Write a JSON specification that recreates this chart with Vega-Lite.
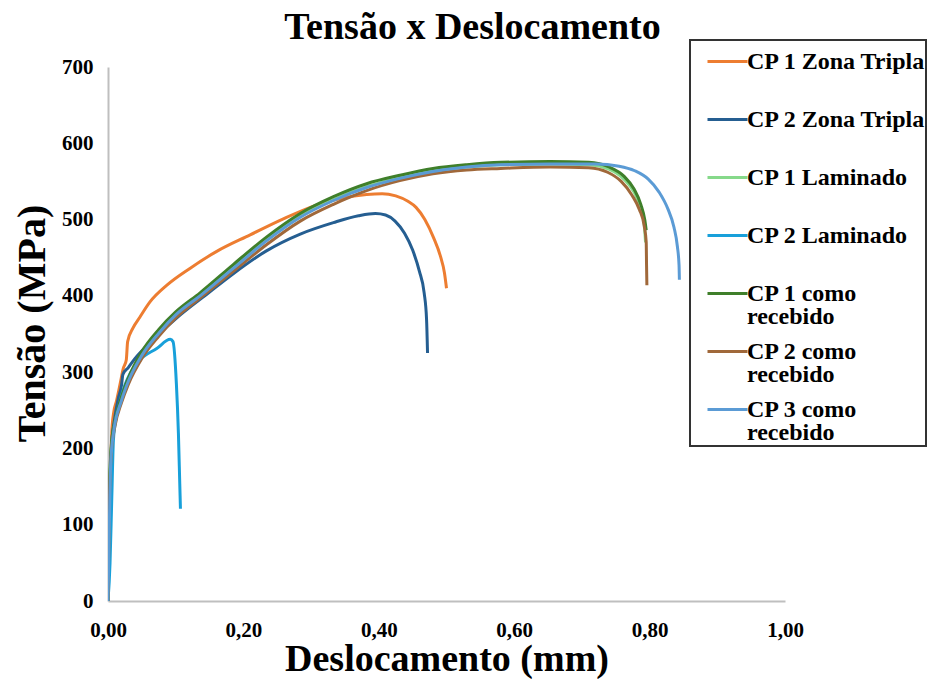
{
  "$schema": "https://vega.github.io/schema/vega-lite/v6.json",
  "width": 677,
  "height": 534,
  "autosize": {"type": "none"},
  "padding": {"left": 108, "top": 67, "right": 144, "bottom": 78},
  "background": "white",
  "config": {"view": {"stroke": null}, "font": "Liberation Serif"},
  "title": {
    "text": "Tensão x Deslocamento",
    "font": "Liberation Serif",
    "fontSize": 38,
    "fontWeight": "bold",
    "color": "#000000",
    "anchor": "middle",
    "frame": "group",
    "dx": 26,
    "offset": -8
  },
  "data": {
    "values": [
      {"s": "CP 1 Zona Tripla", "x": 0, "y": 0},
      {"s": "CP 1 Zona Tripla", "x": 0.002, "y": 100},
      {"s": "CP 1 Zona Tripla", "x": 0.004, "y": 180},
      {"s": "CP 1 Zona Tripla", "x": 0.0055, "y": 220},
      {"s": "CP 1 Zona Tripla", "x": 0.008, "y": 245},
      {"s": "CP 1 Zona Tripla", "x": 0.0128, "y": 263},
      {"s": "CP 1 Zona Tripla", "x": 0.018, "y": 285},
      {"s": "CP 1 Zona Tripla", "x": 0.0226, "y": 305},
      {"s": "CP 1 Zona Tripla", "x": 0.027, "y": 316},
      {"s": "CP 1 Zona Tripla", "x": 0.029, "y": 340},
      {"s": "CP 1 Zona Tripla", "x": 0.037, "y": 358},
      {"s": "CP 1 Zona Tripla", "x": 0.047, "y": 372},
      {"s": "CP 1 Zona Tripla", "x": 0.062, "y": 392},
      {"s": "CP 1 Zona Tripla", "x": 0.087, "y": 414},
      {"s": "CP 1 Zona Tripla", "x": 0.121, "y": 436},
      {"s": "CP 1 Zona Tripla", "x": 0.16, "y": 458},
      {"s": "CP 1 Zona Tripla", "x": 0.21, "y": 480},
      {"s": "CP 1 Zona Tripla", "x": 0.259, "y": 501},
      {"s": "CP 1 Zona Tripla", "x": 0.308, "y": 519},
      {"s": "CP 1 Zona Tripla", "x": 0.345, "y": 528},
      {"s": "CP 1 Zona Tripla", "x": 0.382, "y": 533},
      {"s": "CP 1 Zona Tripla", "x": 0.405, "y": 534},
      {"s": "CP 1 Zona Tripla", "x": 0.425, "y": 531},
      {"s": "CP 1 Zona Tripla", "x": 0.443, "y": 524},
      {"s": "CP 1 Zona Tripla", "x": 0.455, "y": 516},
      {"s": "CP 1 Zona Tripla", "x": 0.468, "y": 500},
      {"s": "CP 1 Zona Tripla", "x": 0.481, "y": 476},
      {"s": "CP 1 Zona Tripla", "x": 0.491, "y": 452},
      {"s": "CP 1 Zona Tripla", "x": 0.497, "y": 430},
      {"s": "CP 1 Zona Tripla", "x": 0.5, "y": 410},

      {"s": "CP 2 Zona Tripla", "x": 0, "y": 0},
      {"s": "CP 2 Zona Tripla", "x": 0.002, "y": 120},
      {"s": "CP 2 Zona Tripla", "x": 0.005, "y": 200},
      {"s": "CP 2 Zona Tripla", "x": 0.01, "y": 240},
      {"s": "CP 2 Zona Tripla", "x": 0.015, "y": 265},
      {"s": "CP 2 Zona Tripla", "x": 0.02, "y": 283},
      {"s": "CP 2 Zona Tripla", "x": 0.022, "y": 297},
      {"s": "CP 2 Zona Tripla", "x": 0.03, "y": 306},
      {"s": "CP 2 Zona Tripla", "x": 0.04, "y": 318},
      {"s": "CP 2 Zona Tripla", "x": 0.06, "y": 337},
      {"s": "CP 2 Zona Tripla", "x": 0.08, "y": 354},
      {"s": "CP 2 Zona Tripla", "x": 0.1, "y": 370},
      {"s": "CP 2 Zona Tripla", "x": 0.15, "y": 405},
      {"s": "CP 2 Zona Tripla", "x": 0.185, "y": 429},
      {"s": "CP 2 Zona Tripla", "x": 0.234, "y": 459},
      {"s": "CP 2 Zona Tripla", "x": 0.284, "y": 481},
      {"s": "CP 2 Zona Tripla", "x": 0.333, "y": 496},
      {"s": "CP 2 Zona Tripla", "x": 0.37, "y": 505},
      {"s": "CP 2 Zona Tripla", "x": 0.395, "y": 508},
      {"s": "CP 2 Zona Tripla", "x": 0.41, "y": 506},
      {"s": "CP 2 Zona Tripla", "x": 0.424, "y": 498},
      {"s": "CP 2 Zona Tripla", "x": 0.438, "y": 482},
      {"s": "CP 2 Zona Tripla", "x": 0.45, "y": 460},
      {"s": "CP 2 Zona Tripla", "x": 0.46, "y": 432},
      {"s": "CP 2 Zona Tripla", "x": 0.467, "y": 404},
      {"s": "CP 2 Zona Tripla", "x": 0.4705, "y": 370},
      {"s": "CP 2 Zona Tripla", "x": 0.472, "y": 325},

      {"s": "CP 1 Laminado", "x": 0, "y": 0},
      {"s": "CP 1 Laminado", "x": 0.002, "y": 135},
      {"s": "CP 1 Laminado", "x": 0.005, "y": 200},
      {"s": "CP 1 Laminado", "x": 0.01, "y": 232},
      {"s": "CP 1 Laminado", "x": 0.02, "y": 264},
      {"s": "CP 1 Laminado", "x": 0.03, "y": 288},
      {"s": "CP 1 Laminado", "x": 0.05, "y": 323},
      {"s": "CP 1 Laminado", "x": 0.075, "y": 352},
      {"s": "CP 1 Laminado", "x": 0.1, "y": 376},
      {"s": "CP 1 Laminado", "x": 0.136, "y": 401},
      {"s": "CP 1 Laminado", "x": 0.185, "y": 437},
      {"s": "CP 1 Laminado", "x": 0.234, "y": 473},
      {"s": "CP 1 Laminado", "x": 0.284, "y": 504},
      {"s": "CP 1 Laminado", "x": 0.333, "y": 526},
      {"s": "CP 1 Laminado", "x": 0.382, "y": 543},
      {"s": "CP 1 Laminado", "x": 0.431, "y": 555},
      {"s": "CP 1 Laminado", "x": 0.48, "y": 564},
      {"s": "CP 1 Laminado", "x": 0.53, "y": 569},
      {"s": "CP 1 Laminado", "x": 0.58, "y": 572},
      {"s": "CP 1 Laminado", "x": 0.653, "y": 573},
      {"s": "CP 1 Laminado", "x": 0.71, "y": 572},
      {"s": "CP 1 Laminado", "x": 0.74, "y": 566},
      {"s": "CP 1 Laminado", "x": 0.762, "y": 553},
      {"s": "CP 1 Laminado", "x": 0.777, "y": 536},
      {"s": "CP 1 Laminado", "x": 0.787, "y": 515},
      {"s": "CP 1 Laminado", "x": 0.792, "y": 495},
      {"s": "CP 1 Laminado", "x": 0.794, "y": 470},

      {"s": "CP 2 Laminado", "x": 0, "y": 0},
      {"s": "CP 2 Laminado", "x": 0.003, "y": 50},
      {"s": "CP 2 Laminado", "x": 0.0055, "y": 132},
      {"s": "CP 2 Laminado", "x": 0.008, "y": 211},
      {"s": "CP 2 Laminado", "x": 0.012, "y": 240},
      {"s": "CP 2 Laminado", "x": 0.018, "y": 263},
      {"s": "CP 2 Laminado", "x": 0.025, "y": 283},
      {"s": "CP 2 Laminado", "x": 0.033, "y": 299},
      {"s": "CP 2 Laminado", "x": 0.047, "y": 316},
      {"s": "CP 2 Laminado", "x": 0.072, "y": 331},
      {"s": "CP 2 Laminado", "x": 0.092, "y": 343},
      {"s": "CP 2 Laminado", "x": 0.096, "y": 340},
      {"s": "CP 2 Laminado", "x": 0.101, "y": 285},
      {"s": "CP 2 Laminado", "x": 0.104, "y": 220},
      {"s": "CP 2 Laminado", "x": 0.106, "y": 154},
      {"s": "CP 2 Laminado", "x": 0.107, "y": 121},

      {"s": "CP 1 como recebido", "x": 0, "y": 0},
      {"s": "CP 1 como recebido", "x": 0.002, "y": 140},
      {"s": "CP 1 como recebido", "x": 0.005, "y": 205},
      {"s": "CP 1 como recebido", "x": 0.01, "y": 235},
      {"s": "CP 1 como recebido", "x": 0.02, "y": 268},
      {"s": "CP 1 como recebido", "x": 0.03, "y": 292},
      {"s": "CP 1 como recebido", "x": 0.05, "y": 327},
      {"s": "CP 1 como recebido", "x": 0.075, "y": 356},
      {"s": "CP 1 como recebido", "x": 0.1, "y": 379},
      {"s": "CP 1 como recebido", "x": 0.136, "y": 404},
      {"s": "CP 1 como recebido", "x": 0.185, "y": 441},
      {"s": "CP 1 como recebido", "x": 0.234, "y": 477},
      {"s": "CP 1 como recebido", "x": 0.284, "y": 508},
      {"s": "CP 1 como recebido", "x": 0.333, "y": 530},
      {"s": "CP 1 como recebido", "x": 0.382, "y": 547},
      {"s": "CP 1 como recebido", "x": 0.431, "y": 558},
      {"s": "CP 1 como recebido", "x": 0.48, "y": 567},
      {"s": "CP 1 como recebido", "x": 0.53, "y": 572},
      {"s": "CP 1 como recebido", "x": 0.58, "y": 575},
      {"s": "CP 1 como recebido", "x": 0.653, "y": 576},
      {"s": "CP 1 como recebido", "x": 0.71, "y": 575},
      {"s": "CP 1 como recebido", "x": 0.74, "y": 569},
      {"s": "CP 1 como recebido", "x": 0.762, "y": 557},
      {"s": "CP 1 como recebido", "x": 0.777, "y": 540},
      {"s": "CP 1 como recebido", "x": 0.787, "y": 520},
      {"s": "CP 1 como recebido", "x": 0.793, "y": 499},
      {"s": "CP 1 como recebido", "x": 0.795, "y": 486},

      {"s": "CP 2 como recebido", "x": 0, "y": 0},
      {"s": "CP 2 como recebido", "x": 0.002, "y": 130},
      {"s": "CP 2 como recebido", "x": 0.005, "y": 195},
      {"s": "CP 2 como recebido", "x": 0.01, "y": 228},
      {"s": "CP 2 como recebido", "x": 0.02, "y": 260},
      {"s": "CP 2 como recebido", "x": 0.03, "y": 284},
      {"s": "CP 2 como recebido", "x": 0.05, "y": 318},
      {"s": "CP 2 como recebido", "x": 0.075, "y": 347},
      {"s": "CP 2 como recebido", "x": 0.1, "y": 371},
      {"s": "CP 2 como recebido", "x": 0.136, "y": 397},
      {"s": "CP 2 como recebido", "x": 0.185, "y": 432},
      {"s": "CP 2 como recebido", "x": 0.234, "y": 467},
      {"s": "CP 2 como recebido", "x": 0.284, "y": 498},
      {"s": "CP 2 como recebido", "x": 0.333, "y": 520},
      {"s": "CP 2 como recebido", "x": 0.382, "y": 538},
      {"s": "CP 2 como recebido", "x": 0.431, "y": 551},
      {"s": "CP 2 como recebido", "x": 0.48, "y": 560},
      {"s": "CP 2 como recebido", "x": 0.53, "y": 565},
      {"s": "CP 2 como recebido", "x": 0.58, "y": 567},
      {"s": "CP 2 como recebido", "x": 0.653, "y": 569},
      {"s": "CP 2 como recebido", "x": 0.71, "y": 568},
      {"s": "CP 2 como recebido", "x": 0.738, "y": 562},
      {"s": "CP 2 como recebido", "x": 0.758, "y": 550},
      {"s": "CP 2 como recebido", "x": 0.774, "y": 532},
      {"s": "CP 2 como recebido", "x": 0.785, "y": 513},
      {"s": "CP 2 como recebido", "x": 0.792, "y": 492},
      {"s": "CP 2 como recebido", "x": 0.795, "y": 470},
      {"s": "CP 2 como recebido", "x": 0.7955, "y": 440},
      {"s": "CP 2 como recebido", "x": 0.796, "y": 414},

      {"s": "CP 3 como recebido", "x": 0, "y": 0},
      {"s": "CP 3 como recebido", "x": 0.002, "y": 100},
      {"s": "CP 3 como recebido", "x": 0.004, "y": 180},
      {"s": "CP 3 como recebido", "x": 0.008, "y": 220},
      {"s": "CP 3 como recebido", "x": 0.02, "y": 263},
      {"s": "CP 3 como recebido", "x": 0.03, "y": 288},
      {"s": "CP 3 como recebido", "x": 0.05, "y": 322},
      {"s": "CP 3 como recebido", "x": 0.075, "y": 351},
      {"s": "CP 3 como recebido", "x": 0.1, "y": 375},
      {"s": "CP 3 como recebido", "x": 0.136, "y": 400},
      {"s": "CP 3 como recebido", "x": 0.185, "y": 436},
      {"s": "CP 3 como recebido", "x": 0.234, "y": 472},
      {"s": "CP 3 como recebido", "x": 0.284, "y": 503},
      {"s": "CP 3 como recebido", "x": 0.333, "y": 525},
      {"s": "CP 3 como recebido", "x": 0.382, "y": 542},
      {"s": "CP 3 como recebido", "x": 0.431, "y": 554},
      {"s": "CP 3 como recebido", "x": 0.48, "y": 563},
      {"s": "CP 3 como recebido", "x": 0.53, "y": 569},
      {"s": "CP 3 como recebido", "x": 0.58, "y": 572},
      {"s": "CP 3 como recebido", "x": 0.653, "y": 573},
      {"s": "CP 3 como recebido", "x": 0.72, "y": 573},
      {"s": "CP 3 como recebido", "x": 0.755, "y": 570},
      {"s": "CP 3 como recebido", "x": 0.778, "y": 564},
      {"s": "CP 3 como recebido", "x": 0.798, "y": 553},
      {"s": "CP 3 como recebido", "x": 0.814, "y": 536},
      {"s": "CP 3 como recebido", "x": 0.827, "y": 514},
      {"s": "CP 3 como recebido", "x": 0.836, "y": 490},
      {"s": "CP 3 como recebido", "x": 0.841, "y": 465},
      {"s": "CP 3 como recebido", "x": 0.8435, "y": 440},
      {"s": "CP 3 como recebido", "x": 0.844, "y": 421}
    ]
  },
  "mark": {"type": "line", "strokeWidth": 3, "clip": true, "interpolate": "monotone"},
  "encoding": {
    "x": {
      "field": "x",
      "type": "quantitative",
      "scale": {"domain": [0, 1], "nice": false, "zero": false},
      "axis": {
        "title": "Deslocamento (mm)",
        "values": [0, 0.2, 0.4, 0.6, 0.8, 1],
        "labelExpr": "replace(format(datum.value, '.2f'), '.', ',')",
        "grid": false,
        "ticks": false,
        "domainColor": "#BFBFBF",
        "domainWidth": 2,
        "labelFont": "Liberation Serif",
        "labelFontSize": 21,
        "labelFontWeight": "bold",
        "labelColor": "#000000",
        "labelPadding": 18,
        "labelFlush": false,
        "labelOverlap": false,
        "titleFont": "Liberation Serif",
        "titleFontSize": 38,
        "titleFontWeight": "bold",
        "titleColor": "#000000",
        "titlePadding": 0
      }
    },
    "y": {
      "field": "y",
      "type": "quantitative",
      "scale": {"domain": [0, 700], "nice": false},
      "axis": {
        "title": "Tensão (MPa)",
        "values": [0, 100, 200, 300, 400, 500, 600, 700],
        "grid": false,
        "ticks": false,
        "domainColor": "#BFBFBF",
        "domainWidth": 2,
        "labelFont": "Liberation Serif",
        "labelFontSize": 21,
        "labelFontWeight": "bold",
        "labelColor": "#000000",
        "labelPadding": 15,
        "labelFlush": false,
        "labelOverlap": false,
        "titleFont": "Liberation Serif",
        "titleFontSize": 40,
        "titleFontWeight": "bold",
        "titleColor": "#000000",
        "titlePadding": 9,
        "titleY": 256
      }
    },
    "color": {
      "field": "s",
      "type": "nominal",
      "scale": {
        "domain": ["CP 1 Zona Tripla", "CP 2 Zona Tripla", "CP 1 Laminado", "CP 2 Laminado", "CP 1 como recebido", "CP 2 como recebido", "CP 3 como recebido"],
        "range": ["#ED7D31", "#255E91", "#86D98A", "#18A0DA", "#3F7F2A", "#A0683A", "#5B9BD5"]
      },
      "legend": {
        "title": null,
        "orient": "none",
        "legendX": 582,
        "legendY": -27,
        "symbolType": "stroke",
        "symbolSize": 1600,
        "symbolStrokeWidth": 3,
        "symbolOffset": 16,
        "labelFont": "Liberation Serif",
        "labelFontSize": 24,
        "labelFontWeight": "bold",
        "labelColor": "#000000",
        "labelOffset": -2,
        "labelLimit": 400,
        "labelBaseline": "middle",
        "labelExpr": "indexof(datum.label, ' como ') >= 0 ? [replace(datum.label, ' recebido', ''), 'recebido'] : datum.label",
        "gridAlign": "all",
        "rowPadding": 0,
        "padding": 0,
        "strokeColor": "#333333",
        "encode": {
          "labels": {"update": {"lineHeight": {"value": 23.8}}},
          "legend": {"update": {"strokeWidth": {"value": 2}}}
        }
      }
    }
  }
}
